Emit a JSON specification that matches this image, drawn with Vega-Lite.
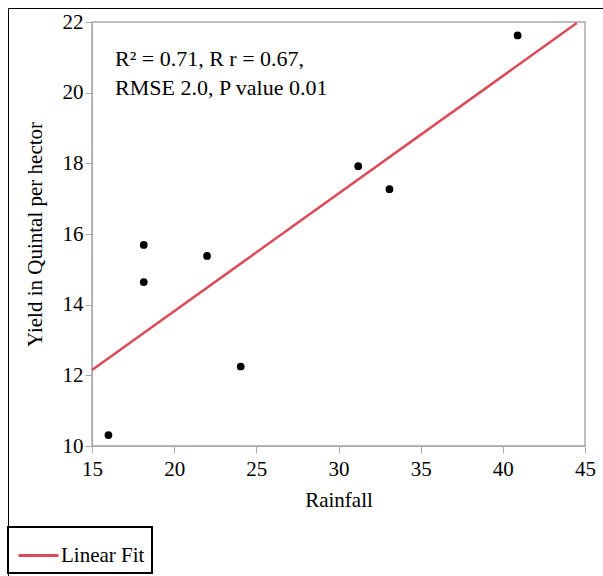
{
  "$schema": "https://vega.github.io/schema/vega-lite/v6.json",
  "width": 493,
  "height": 424,
  "autosize": {"type": "none"},
  "padding": {"left": 92, "top": 22, "right": 18, "bottom": 130},
  "background": "white",
  "config": {
    "font": "Liberation Serif",
    "view": {"stroke": "#a9a9a9", "strokeWidth": 1.5},
    "axis": {
      "grid": false,
      "domainColor": "#a9a9a9",
      "tickColor": "#a9a9a9",
      "tickSize": 7,
      "labelFlush": false,
      "labelFont": "Liberation Serif",
      "labelFontSize": 21,
      "labelColor": "black",
      "titleFont": "Liberation Serif",
      "titleFontSize": 21,
      "titleFontWeight": "normal",
      "titleColor": "black"
    }
  },
  "layer": [
    {
      "data": {"values": [
        {"Rainfall": 16.0, "Yield": 10.31},
        {"Rainfall": 18.15, "Yield": 15.69},
        {"Rainfall": 18.15, "Yield": 14.64},
        {"Rainfall": 22.0, "Yield": 15.38},
        {"Rainfall": 24.05, "Yield": 12.25},
        {"Rainfall": 31.2, "Yield": 17.92},
        {"Rainfall": 33.1, "Yield": 17.27},
        {"Rainfall": 40.9, "Yield": 21.62}
      ]},
      "mark": {"type": "point", "filled": true, "color": "black", "opacity": 1, "size": 60},
      "encoding": {
        "x": {"field": "Rainfall", "type": "quantitative", "scale": {"domain": [15, 45], "nice": false, "zero": false},
          "axis": {"values": [15, 20, 25, 30, 35, 40, 45], "title": "Rainfall", "labelPadding": 5, "titlePadding": 10}},
        "y": {"field": "Yield", "type": "quantitative", "scale": {"domain": [10, 22], "nice": false, "zero": false},
          "axis": {"values": [10, 12, 14, 16, 18, 20, 22], "title": "Yield in Quintal per hector", "labelPadding": 2, "titlePadding": 17}},
        "shape": {"datum": "frame", "type": "nominal", "scale": {"range": ["circle"]},
          "legend": {"orient": "none", "legendX": -84, "legendY": -14, "strokeColor": "black", "padding": 320, "title": null, "labelExpr": "''", "symbolOpacity": 0,
            "encode": {"legend": {"update": {"strokeWidth": {"value": 1.5}}}}}}
      }
    },
    {
      "data": {"values": [
        {"Rainfall": 15.0, "Yield": 12.15, "series": "Linear Fit"},
        {"Rainfall": 44.5, "Yield": 21.97, "series": "Linear Fit"}
      ]},
      "mark": {"type": "line", "strokeWidth": 2.5},
      "encoding": {
        "x": {"field": "Rainfall", "type": "quantitative"},
        "y": {"field": "Yield", "type": "quantitative"},
        "color": {"field": "series", "type": "nominal", "scale": {"range": ["#dc4a5a"]},
          "legend": {"orient": "none", "legendX": -84, "legendY": 505, "title": null, "strokeColor": "black", "padding": 7, "symbolOffset": 2, "symbolType": "stroke", "symbolSize": 1600, "symbolStrokeWidth": 3, "labelFont": "Liberation Serif", "labelFontSize": 21, "labelColor": "black", "labelOffset": 1,
            "encode": {"legend": {"update": {"strokeWidth": {"value": 2}}}}}}
      }
    },
    {
      "data": {"values": [
        {"Rainfall": 16.4, "Yield": 21.25, "label": "R² = 0.71, R r = 0.67,\nRMSE 2.0, P value 0.01"}
      ]},
      "mark": {"type": "text", "align": "left", "baseline": "top", "lineBreak": "\n", "lineHeight": 29, "fontSize": 22, "font": "Liberation Serif", "color": "black"},
      "encoding": {
        "x": {"field": "Rainfall", "type": "quantitative"},
        "y": {"field": "Yield", "type": "quantitative"},
        "text": {"field": "label"}
      }
    }
  ]
}
